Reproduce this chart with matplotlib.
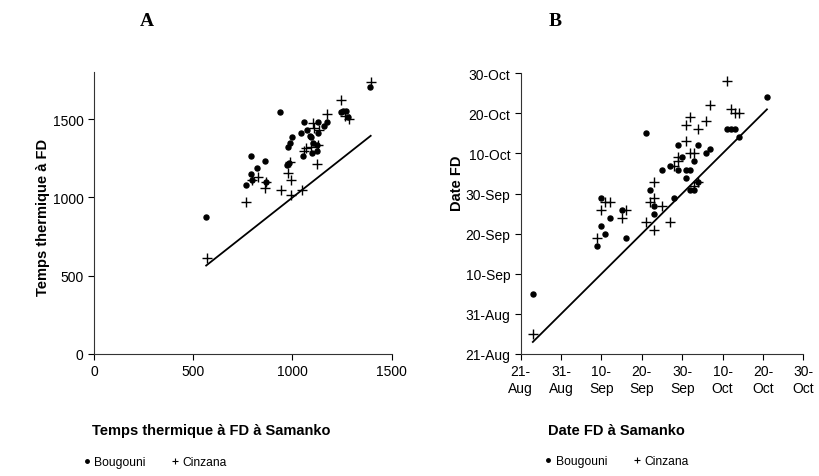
import matplotlib
matplotlib.use("Agg")
import matplotlib.pyplot as plt
from matplotlib import font_manager
from matplotlib.lines import Line2D

# Panel A: thermal time at FD (degree-days), Samanko vs other sites
bougouni_a_x = [565, 939, 790, 859, 822, 790, 764, 798, 865, 997, 987, 977, 973, 983,
                1059, 1128, 1045, 1074, 1094, 1086, 1128, 1101, 1052, 1098, 1121, 1125,
                1158, 1172, 1242, 1256, 1271, 1281, 1391]
bougouni_a_y = [875, 1547, 1268, 1236, 1189, 1150, 1078, 1114, 1099, 1386, 1350, 1322, 1210, 1219,
                1483, 1483, 1409, 1429, 1386, 1390, 1414, 1348, 1268, 1285, 1300, 1335,
                1457, 1483, 1547, 1553, 1553, 1515, 1705]
cinzana_a_x = [569, 768, 798, 824, 864, 862, 943, 990, 975, 995, 987, 1049, 1125,
               1057, 1070, 1094, 1130, 1103, 1108, 1133, 1175, 1244, 1265, 1286, 1394]
cinzana_a_y = [615, 972, 1110, 1129, 1101, 1062, 1050, 1014, 1155, 1114, 1225, 1050, 1215,
               1300, 1318, 1322, 1335, 1478, 1442, 1429, 1535, 1622, 1521, 1503, 1735]

# Panel B: FD date, in days after 21-Aug
bougouni_b_x = [3, 61, 19, 20, 21, 20, 22, 25, 26, 31, 32, 33, 33, 35, 37, 38, 39, 39, 40,
                41, 41, 42, 42, 43, 43, 44, 44, 46, 47, 51, 52, 53, 54]
bougouni_b_y = [15, 64, 27, 32, 30, 39, 34, 36, 29, 55, 41, 37, 35, 46, 47, 39, 46, 52, 49,
                44, 46, 46, 41, 41, 48, 52, 43, 50, 51, 56, 56, 56, 54]
cinzana_b_x = [3, 19, 20, 21, 22, 25, 26, 31, 32, 33, 33, 33, 35, 37, 38, 39, 39, 41, 41,
               42, 42, 43, 43, 44, 44, 46, 47, 51, 52, 53, 54]
cinzana_b_y = [5, 29, 36, 38, 38, 34, 36, 33, 38, 39, 43, 31, 37, 33, 47, 48, 49, 53, 57,
               59, 50, 50, 42, 56, 43, 58, 62, 68, 61, 60, 60]

a_ticks = [0, 500, 1000, 1500]
date_ticks = [0, 10, 20, 30, 40, 50, 60, 70]
date_labels = ["21-Aug", "31-Aug", "10-Sep", "20-Sep", "30-Sep", "10-Oct", "20-Oct", "30-Oct"]

SANS = ["Liberation Sans", "DejaVu Sans"]
plt.rcParams["font.family"] = SANS

# legend text in the original is narrow
installed = {f.name for f in font_manager.fontManager.ttflist}
if "Liberation Sans Narrow" in installed:
    LEG_FONT = {"family": "Liberation Sans Narrow", "size": 10}
else:
    LEG_FONT = {"family": "Liberation Sans", "size": 8.7}


def style_axes(ax):
    for side in ["top", "right"]:
        ax.spines[side].set_visible(False)
    for side in ["left", "bottom"]:
        ax.spines[side].set_linewidth(0.8)
        ax.spines[side].set_color("#333333")
    ax.tick_params(direction="out", length=4, width=0.8, labelsize=10, colors="black")


def scatter(ax, bx, by, cx, cy):
    ax.plot(bx, by, "o", color="black", markersize=3.6, linestyle="none", clip_on=False)
    ax.plot(cx, cy, "+", color="black", markersize=7, markeredgewidth=1.0,
            linestyle="none", clip_on=False)
    lo = min(min(bx), min(cx))
    hi = max(max(bx), max(cx))
    ax.plot([lo, hi], [lo, hi], color="black", linewidth=1.3)


def legend(ax, x, y):
    handles = [
        Line2D([], [], marker="o", color="black", markersize=2.5, linestyle="none"),
        Line2D([], [], marker="+", color="black", markersize=5, markeredgewidth=0.8,
               linestyle="none"),
    ]
    ax.legend(handles, ["Bougouni", "Cinzana"], loc="center", bbox_to_anchor=(x, y),
              ncol=2, frameon=False, prop=LEG_FONT, handlelength=0.6, handletextpad=0.3,
              columnspacing=2.2, borderaxespad=0)


fig = plt.figure(figsize=(8.19, 4.77), dpi=100)

ax_a = fig.add_axes([0.1148, 0.2558, 0.3635, 0.5906])
scatter(ax_a, bougouni_a_x, bougouni_a_y, cinzana_a_x, cinzana_a_y)
ax_a.set_xlim(0, 1500)
ax_a.set_ylim(0, 1800)
ax_a.set_xticks(a_ticks)
ax_a.set_yticks(a_ticks)
style_axes(ax_a)
ax_a.set_xlabel("Temps thermique à FD à Samanko", fontsize=10.5, fontweight="bold")
ax_a.set_ylabel("Temps thermique à FD", fontsize=10.5, fontweight="bold")
ax_a.xaxis.set_label_coords(0.393, -0.245)
ax_a.yaxis.set_label_coords(-0.148, 0.49)
legend(ax_a, 0.205, -0.383)

ax_b = fig.add_axes([0.6358, 0.2558, 0.345, 0.5885])
scatter(ax_b, bougouni_b_x, bougouni_b_y, cinzana_b_x, cinzana_b_y)
ax_b.set_xlim(0, 70)
ax_b.set_ylim(0, 70)
ax_b.set_xticks(date_ticks)
ax_b.set_xticklabels([d.replace("-", "-\n") for d in date_labels])
ax_b.set_yticks(date_ticks)
ax_b.set_yticklabels(date_labels)
style_axes(ax_b)
ax_b.set_xlabel("Date FD à Samanko", fontsize=10.5, fontweight="bold")
ax_b.set_ylabel("Date FD", fontsize=10.5, fontweight="bold")
ax_b.xaxis.set_label_coords(0.34, -0.245)
ax_b.yaxis.set_label_coords(-0.20, 0.61)
legend(ax_b, 0.34, -0.383)

fig.text(147 / 819, 1 - 22 / 477, "A", family=["Liberation Serif", "DejaVu Serif"],
         fontsize=14, fontweight="bold", ha="center", va="center")
fig.text(555 / 819, 1 - 22 / 477, "B", family=["Liberation Serif", "DejaVu Serif"],
         fontsize=14, fontweight="bold", ha="center", va="center")

fig.savefig("out.png", dpi=100)
